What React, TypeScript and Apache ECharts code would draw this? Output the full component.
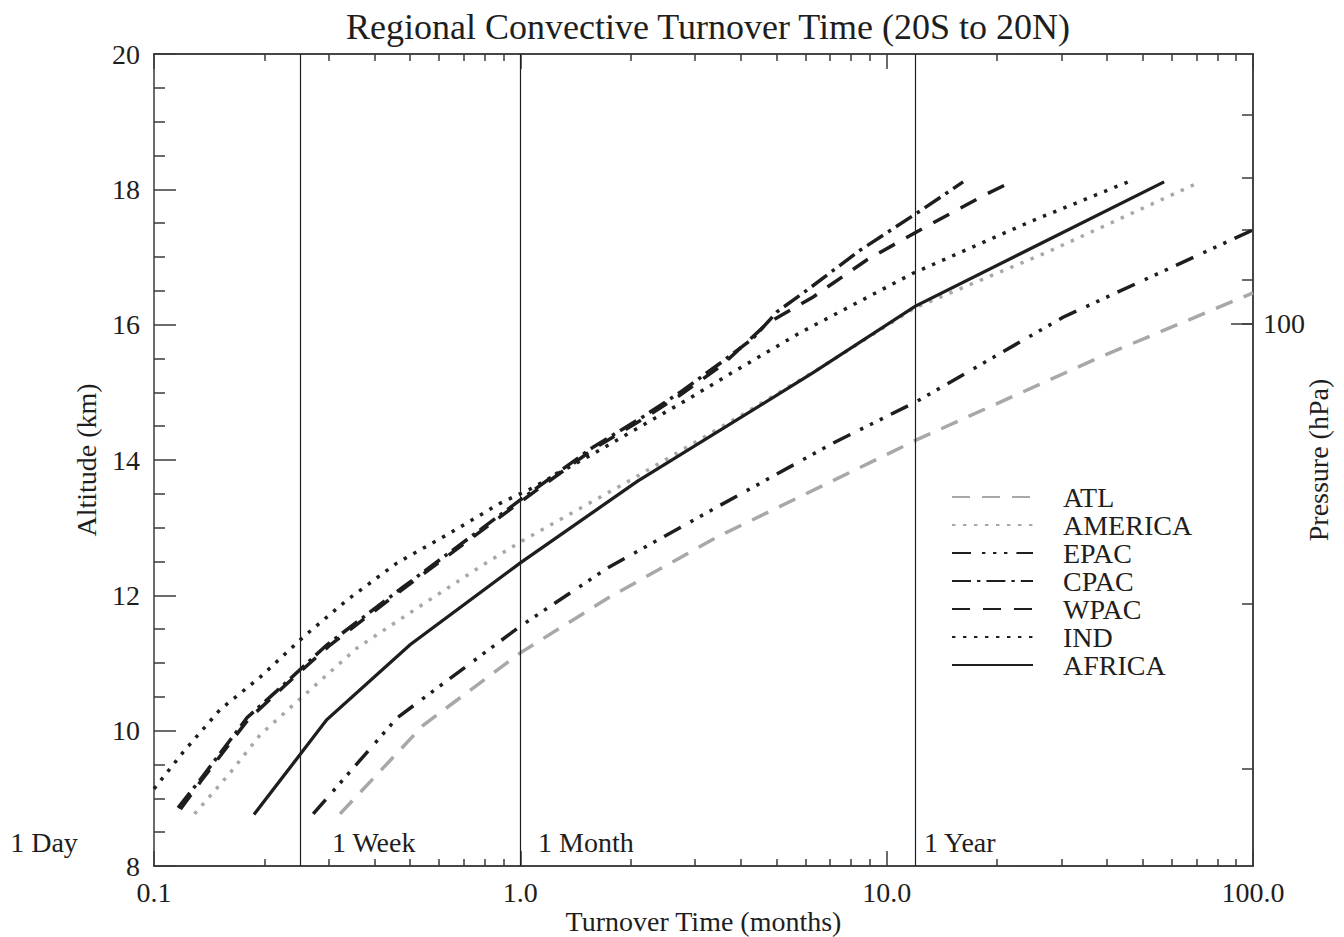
import React, { useEffect, useRef } from "react";
import * as echarts from "echarts";

// ---------- data ----------
const TITLE = "Regional Convective Turnover Time (20S to 20N)";
const X_NAME = "Turnover Time (months)";
const Y_NAME = "Altitude (km)";
const Y2_NAME = "Pressure (hPa)";

const seriesNames = ["ATL", "AMERICA", "EPAC", "CPAC", "WPAC", "IND", "AFRICA"];

// [turnover time (months), altitude (km)]
const atl = [[0.322, 8.77], [0.543, 10.08], [1.0, 11.15], [1.76, 11.98], [3.44, 12.86], [12.1, 14.3], [38.2, 15.52], [100, 16.47]];
const america = [[0.129, 8.77], [0.161, 9.37], [0.195, 9.94], [0.254, 10.5], [0.358, 11.22], [0.522, 11.81], [0.791, 12.45], [1.0, 12.79], [2.04, 13.73], [3.81, 14.59], [6.58, 15.36], [11.95, 16.25], [27.4, 17.07], [71.7, 18.11]];
const epac = [[0.272, 8.77], [0.461, 10.19], [0.992, 11.53], [1.725, 12.4], [3.51, 13.33], [7.14, 14.25], [12.03, 14.86], [30.3, 16.11], [100, 17.4]];
const cpac = [[0.1163, 8.86], [0.1335, 9.27], [0.1794, 10.19], [0.225, 10.67], [0.2967, 11.27], [0.478, 12.12], [1.0, 13.41], [1.579, 14.19], [2.163, 14.64], [2.729, 15.0], [3.51, 15.43], [4.32, 15.8], [5.02, 16.19], [6.06, 16.51], [8.46, 17.1], [12.1, 17.65], [16.17, 18.11]];
const wpac = [[0.118, 8.84], [0.135, 9.27], [0.181, 10.17], [0.227, 10.66], [0.3, 11.25], [0.48, 12.1], [1.0, 13.38], [1.59, 14.17], [2.18, 14.62], [2.75, 14.97], [3.55, 15.4], [4.72, 16.02], [6.3, 16.41], [8.84, 16.96], [12.34, 17.4], [18.56, 17.92], [21.9, 18.11]];
const ind = [[0.1, 9.14], [0.12, 9.68], [0.1514, 10.31], [0.1948, 10.79], [0.255, 11.38], [0.3364, 11.93], [0.461, 12.48], [0.643, 12.92], [0.88, 13.36], [1.063, 13.57], [1.651, 14.15], [2.852, 14.89], [3.81, 15.3], [5.8, 15.88], [11.8, 16.76], [24.6, 17.52], [45.6, 18.11]];
const africa = [[0.1875, 8.76], [0.296, 10.16], [0.5, 11.27], [1.0, 12.48], [2.08, 13.68], [6.3, 15.29], [11.95, 16.27], [57.2, 18.11]];

const seriesData = [atl, america, epac, cpac, wpac, ind, africa];

// reference periods (months) and where their labels sit
const periodLabels = ["1 Day", "1 Week", "1 Month", "1 Year"];
const periodMonths = [1 / 30, 0.25, 1, 12];
const periodLabelAt = [0.0405, 0.306, 1.118, 12.65];
const periodLabelAlt = 8.34;

// axes
const xDecades = [0.1, 1, 10, 100];
const xMinor = [0.2, 0.3, 0.4, 0.5, 0.6, 0.7, 0.8, 0.9, 2, 3, 4, 5, 6, 7, 8, 9, 20, 30, 40, 50, 60, 70, 80, 90];
const pressureLevels = [300, 200, 100, 90, 80, 70, 60];
const pressureAltitudes = [9.43, 11.87, 16.02, 16.67, 17.4, 18.17, 19.1];
const pressureLabelled = [100];

// ---------- styles ----------
const FONT = "'Liberation Serif', 'DejaVu Serif', serif";
const INK = "#1e1e1e";
const GRAY = "#a8a8a8";
const AXIS = "#3a3a3a";

const lineStyles: any[] = [
  { color: GRAY, width: 3.5, type: [18, 12] },
  { color: GRAY, width: 3.5, type: [3.4, 7.6] },
  { color: INK, width: 3.5, type: [19, 11, 3.4, 7.6, 3.4, 7.6, 3.4, 9] },
  { color: INK, width: 3.5, type: [19, 6, 3.4, 6] },
  { color: INK, width: 3.5, type: [18, 13] },
  { color: INK, width: 3.5, type: [3.4, 7.6] },
  { color: INK, width: 3.3, type: "solid" },
];

export default function App() {
  const ref = useRef<HTMLDivElement>(null);
  useEffect(() => {
    if (!ref.current) return;
    const chart = echarts.init(ref.current, null, { renderer: "svg" });

    const axisLine = { show: true, lineStyle: { color: AXIS, width: 1.5 } };
    const tickLine = { color: AXIS, width: 1.5 };
    const labelText = { fontFamily: FONT, fontSize: 28, color: INK };

    const xBase = (position: string) => ({
      type: "log",
      logBase: 10,
      min: 0.1,
      max: 100,
      position,
      axisLine,
      splitLine: { show: false },
      minorTick: { show: false },
    });

    const yBase = (position: string) => ({
      type: "value",
      min: 8,
      max: 20,
      position,
      axisLine,
      splitLine: { show: false },
    });

    const labelledAlt = pressureAltitudes.filter((_, i) => pressureLabelled.includes(pressureLevels[i]));

    const option: any = {
      animation: false,
      backgroundColor: "#ffffff",
      title: {
        text: TITLE,
        left: 703,
        top: 4,
        textAlign: "center",
        textStyle: { fontFamily: FONT, fontSize: 36, fontWeight: "normal", color: INK },
      },
      grid: { left: 154, right: 91, top: 54, bottom: 71, outerBoundsMode: "none" },
      legend: {
        orient: "vertical",
        left: 951,
        top: 483,
        padding: 0,
        itemGap: 0,
        itemWidth: 81,
        itemHeight: 14,
        data: seriesNames,
        selectedMode: false,
        itemStyle: { opacity: 0, borderWidth: 0 },
        textStyle: { ...labelText, lineHeight: 27, padding: [0, 0, 0, 25] },
      },
      xAxis: [
        {
          ...xBase("bottom"),
          name: X_NAME,
          nameLocation: "middle",
          nameGap: 42,
          nameMoveOverlap: false,
          nameTextStyle: { ...labelText, lineHeight: 26 },
          axisTick: { show: true, inside: true, length: 15, customValues: xDecades, lineStyle: tickLine },
          axisLabel: {
            ...labelText,
            margin: 12,
            customValues: xDecades,
            formatter: (v: number) => Number(v).toFixed(1),
          },
        },
        {
          ...xBase("bottom"),
          axisTick: { show: true, inside: true, length: 7, customValues: xMinor, lineStyle: tickLine },
          axisLabel: { show: false },
        },
        {
          ...xBase("top"),
          axisTick: { show: true, inside: true, length: 15, customValues: xDecades, lineStyle: tickLine },
          axisLabel: { show: false },
        },
        {
          ...xBase("top"),
          axisTick: { show: true, inside: true, length: 7, customValues: xMinor, lineStyle: tickLine },
          axisLabel: { show: false },
        },
      ],
      yAxis: [
        {
          ...yBase("left"),
          interval: 2,
          name: Y_NAME,
          nameLocation: "middle",
          nameRotate: 90,
          nameGap: 54,
          nameMoveOverlap: false,
          nameTextStyle: labelText,
          axisTick: { show: true, inside: true, length: 22, lineStyle: tickLine },
          minorTick: { show: true, splitNumber: 4, length: 11, lineStyle: tickLine },
          axisLabel: { ...labelText, margin: 14 },
        },
        {
          ...yBase("right"),
          axisTick: { show: true, inside: true, length: 11, customValues: pressureAltitudes, lineStyle: tickLine },
          axisLabel: { show: false },
        },
        {
          ...yBase("right"),
          name: Y2_NAME,
          nameLocation: "middle",
          nameRotate: 90,
          nameGap: 51,
          nameMoveOverlap: false,
          nameTextStyle: labelText,
          axisTick: { show: true, inside: true, length: 22, customValues: labelledAlt, lineStyle: tickLine },
          axisLabel: {
            ...labelText,
            margin: 10,
            customValues: labelledAlt,
            formatter: (v: number) => {
              let best = 0;
              pressureAltitudes.forEach((a, i) => {
                if (Math.abs(a - v) < Math.abs(pressureAltitudes[best] - v)) best = i;
              });
              return String(pressureLevels[best]);
            },
          },
        },
      ],
      series: [
        ...seriesNames.map((name, i) => ({
          name,
          type: "line",
          xAxisIndex: 0,
          yAxisIndex: 0,
          data: seriesData[i],
          symbol: "none",
          showSymbol: false,
          clip: true,
          silent: true,
          lineStyle: { ...lineStyles[i], cap: "butt", join: "miter" },
          itemStyle: { color: lineStyles[i].color },
          z: 3,
        })),
        {
          name: "periods",
          type: "scatter",
          xAxisIndex: 0,
          yAxisIndex: 0,
          symbolSize: 0,
          clip: false,
          silent: true,
          itemStyle: { color: INK },
          data: periodLabels.map((label, i) => ({ name: label, value: [periodLabelAt[i], periodLabelAlt] })),
          label: {
            show: true,
            position: "right",
            distance: 0,
            formatter: "{b}",
            ...labelText,
            opacity: 1,
            textBorderWidth: 0,
            textShadowBlur: 0,
          },
          markLine: {
            silent: true,
            symbol: ["none", "none"],
            label: { show: false },
            lineStyle: { color: INK, width: 1.2, type: "solid" },
            data: periodMonths.filter((m) => m >= 0.1 && m <= 100).map((m) => ({ xAxis: m })),
          },
          z: 2,
        },
      ],
    };

    chart.setOption(option);
    return () => chart.dispose();
  }, []);

  return (
    <div
      ref={ref}
      style={{ position: "fixed", left: 0, top: 0, width: 1344, height: 937, background: "#fff" }}
    />
  );
}
